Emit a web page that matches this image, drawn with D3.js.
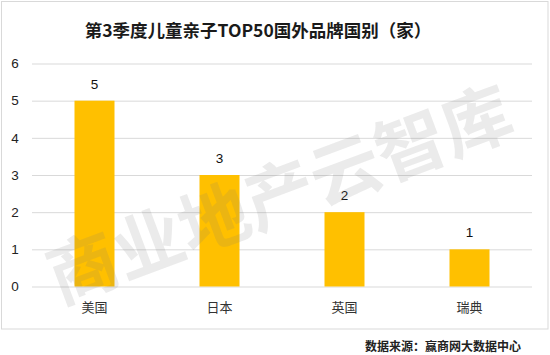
<!DOCTYPE html>
<html><head><meta charset="utf-8">
<script src="https://cdn.jsdelivr.net/npm/d3@7"></script>
<style>body{margin:0;background:#fff}</style>
</head><body>
<svg id="c" width="550" height="355"></svg>
<script>
const categories = ["美国", "日本", "英国", "瑞典"];
const values = [5, 3, 2, 1];
const yTicks = [0, 1, 2, 3, 4, 5, 6];
const title = "第3季度儿童亲子TOP50国外品牌国别（家）";
const source = "数据来源：赢商网大数据中心";
const watermark = "商业地产云智库";

const svg = d3.select("#c");
const m = {left: 32, right: 18, top: 63.5, bottom: 68.5};
const W = 550, H = 355;
const x = d3.scaleBand().domain(categories).range([m.left, W - m.right]).paddingInner(0.68).paddingOuter(0.34);
const y = d3.scaleLinear().domain([0, 6]).range([H - m.bottom, m.top]);

svg.append("rect").attr("x", 1.5).attr("y", 1.5).attr("width", 546.5).attr("height", 327.5)
  .attr("fill", "#fff").attr("stroke", "#d9d9d9");

svg.append("text").attr("x", 258).attr("y", 37).attr("text-anchor", "middle")
  .attr("font-family", "'Noto Sans CJK SC', sans-serif").attr("font-weight", "bold")
  .attr("font-size", 17.5).attr("fill", "#1a1a1a").text(title);

const ya = svg.append("g").attr("transform", `translate(${m.left},0)`)
  .call(d3.axisLeft(y).tickValues(yTicks).tickSize(-(W - m.left - m.right)).tickFormat(d3.format("d")));
ya.select(".domain").remove();
ya.selectAll(".tick line").attr("stroke", "#d9d9d9");
ya.selectAll(".tick text").attr("x", -17).attr("font-family", "Arial, 'Liberation Sans', sans-serif")
  .attr("font-size", 13.5).attr("fill", "#222").attr("text-anchor", "middle");

svg.selectAll(".bar").data(values).join("rect").attr("class", "bar")
  .attr("x", (d, i) => x(categories[i])).attr("width", x.bandwidth())
  .attr("y", d => y(d)).attr("height", d => y(0) - y(d)).attr("fill", "#FFC000");

svg.selectAll(".lbl").data(values).join("text").attr("class", "lbl")
  .attr("x", (d, i) => x(categories[i]) + x.bandwidth() / 2).attr("y", d => y(d) - 12)
  .attr("text-anchor", "middle").attr("font-family", "Arial, 'Liberation Sans', sans-serif")
  .attr("font-size", 13.5).attr("fill", "#111").text(d => d);

const xa = svg.append("g").attr("transform", `translate(0,${y(0)})`)
  .call(d3.axisBottom(x).tickSize(0).tickPadding(16));
xa.select(".domain").remove();
xa.selectAll(".tick text").attr("font-family", "'Noto Sans CJK SC', sans-serif")
  .attr("font-size", 13).attr("fill", "#333");

svg.append("text").attr("transform", "translate(278,190) rotate(-20.5)")
  .attr("text-anchor", "middle").attr("dominant-baseline", "central")
  .attr("font-family", "'Noto Sans CJK SC', sans-serif").attr("font-weight", "bold")
  .attr("font-size", 70).attr("fill", "rgba(120,120,120,0.15)").text(watermark);

svg.append("text").attr("x", 521).attr("y", 351).attr("text-anchor", "end")
  .attr("font-family", "'Noto Sans CJK SC', sans-serif").attr("font-weight", "bold")
  .attr("font-size", 12).attr("fill", "#222").text(source);
</script>
</body></html>
